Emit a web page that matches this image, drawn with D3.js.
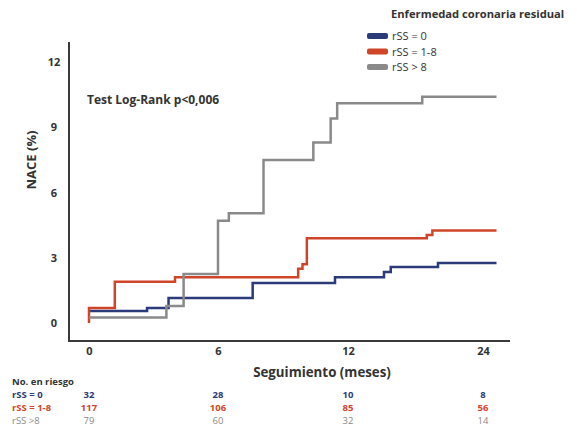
<!DOCTYPE html>
<html>
<head>
<meta charset="utf-8">
<script src="https://cdn.jsdelivr.net/npm/d3@7"></script>
<style>
  body { margin: 0; background: #fff; }
  text { font-family: 'Open Sans', sans-serif; }
</style>
</head>
<body>
<div id="chart"></div>
<script>
// series names + colours
const seriesNames = ['rSS = 0', 'rSS = 1-8', 'rSS > 8'];
const seriesColors = ['#2b3a78', '#d0452a', '#8a8a8a'];

// step points [month, NACE %]
const rss0 = [[0, 0.55], [2.7, 0.69], [3.7, 1.15], [7.6, 1.84], [11.4, 2.1], [15.2, 2.35], [15.8, 2.58], [20.0, 2.76], [25.2, 2.76]];
const rss18 = [[0, 0], [0, 0.69], [1.2, 1.9], [4.0, 2.1], [9.7, 2.5], [9.9, 2.7], [10.1, 3.9], [19.0, 4.05], [19.5, 4.25], [25.2, 4.25]];
const rss8 = [[0, 0.25], [3.6, 0.78], [4.4, 2.25], [6.0, 4.7], [6.5, 5.05], [8.1, 7.5], [10.4, 8.3], [11.2, 9.4], [11.5, 10.1], [18.6, 10.4], [25.2, 10.4]];
const seriesData = [rss0, rss18, rss8];

// ticks
const xTicks = [0, 6, 12, 24];
const yTicks = [0, 3, 6, 9, 12];

// number at risk table
const riskLabels = ['rSS = 0', 'rSS = 1-8', 'rSS >8'];
const risk0 = [32, 28, 10, 8];
const risk18 = [117, 106, 85, 56];
const risk8 = [79, 60, 32, 14];
const riskRows = [risk0, risk18, risk8];

const width = 577, height = 430;

const svg = d3.select('#chart').append('svg')
  .attr('width', width)
  .attr('height', height);

// x axis is not linear in the original: 0, 6, 12, 24 are evenly spaced
const x = d3.scaleLinear().domain([0, 6, 12, 24]).range([89, 218, 348, 483]);
const y = d3.scaleLinear().domain([0, 12]).range([323, 62]);

// axis frame
svg.append('line')
  .attr('x1', 69).attr('x2', 69).attr('y1', 42).attr('y2', 342)
  .attr('stroke', '#3a3a3a').attr('stroke-width', 2);
svg.append('line')
  .attr('x1', 68).attr('x2', 510).attr('y1', 341).attr('y2', 341)
  .attr('stroke', '#3a3a3a').attr('stroke-width', 2);

// y tick labels
svg.append('g')
  .attr('transform', 'translate(60,0)')
  .call(d3.axisLeft(y).tickValues(yTicks).tickSize(0).tickPadding(0))
  .call(g => g.select('.domain').remove())
  .selectAll('text')
  .attr('text-anchor', 'middle')
  .attr('x', -6)
  .attr('font-family', "'Open Sans', sans-serif")
  .attr('font-size', 11)
  .attr('font-weight', 'bold')
  .attr('fill', '#333');

// x tick labels
svg.append('g')
  .attr('transform', 'translate(0,347)')
  .call(d3.axisBottom(x).tickValues(xTicks).tickSize(0).tickPadding(0))
  .call(g => g.select('.domain').remove())
  .selectAll('text')
  .attr('font-family', "'Open Sans', sans-serif")
  .attr('font-size', 11)
  .attr('font-weight', 'bold')
  .attr('fill', '#333');

// axis titles
svg.append('text')
  .attr('transform', 'translate(36,160) rotate(-90)')
  .attr('text-anchor', 'middle')
  .attr('font-size', 13)
  .attr('font-weight', 'bold')
  .attr('fill', '#333')
  .text('NACE (%)');

svg.append('text')
  .attr('x', 322).attr('y', 377)
  .attr('text-anchor', 'middle')
  .attr('font-size', 13.3)
  .attr('font-weight', 'bold')
  .attr('fill', '#333')
  .text('Seguimiento (meses)');

svg.append('text')
  .attr('x', 87).attr('y', 104)
  .attr('font-size', 12)
  .attr('font-weight', 'bold')
  .attr('fill', '#333')
  .text('Test Log-Rank p<0,006');

// step curves
const line = d3.line()
  .x(d => x(d[0]))
  .y(d => y(d[1]))
  .curve(d3.curveStepAfter);

svg.append('g')
  .selectAll('path')
  .data(seriesData)
  .join('path')
  .attr('fill', 'none')
  .attr('stroke', (d, i) => seriesColors[i])
  .attr('stroke-width', 2.5)
  .attr('d', line);

// legend
svg.append('text')
  .attr('x', 391).attr('y', 18)
  .attr('font-size', 11.2)
  .attr('font-weight', 'bold')
  .attr('fill', '#333')
  .text('Enfermedad coronaria residual');

const legend = svg.append('g')
  .selectAll('g')
  .data(seriesNames)
  .join('g')
  .attr('transform', (d, i) => `translate(367,${36 + i * 15.5})`);

legend.append('rect')
  .attr('x', 0).attr('y', -3)
  .attr('width', 21).attr('height', 6)
  .attr('rx', 2)
  .attr('fill', (d, i) => seriesColors[i]);

legend.append('text')
  .attr('x', 25).attr('y', 4)
  .attr('font-size', 11)
  .attr('fill', '#333')
  .text(d => d);

// number at risk
svg.append('text')
  .attr('x', 12).attr('y', 385)
  .attr('font-size', 9.5)
  .attr('font-weight', 'bold')
  .attr('fill', '#333')
  .text('No. en riesgo');

const rowY = [398, 411, 424];
const rowWeight = ['bold', 'bold', 'normal'];

svg.append('g')
  .selectAll('text')
  .data(riskLabels)
  .join('text')
  .attr('x', 12)
  .attr('y', (d, i) => rowY[i])
  .attr('font-size', 9.5)
  .attr('font-weight', (d, i) => rowWeight[i])
  .attr('fill', (d, i) => seriesColors[i])
  .text(d => d);

riskRows.forEach((row, i) => {
  svg.append('g')
    .selectAll('text')
    .data(row)
    .join('text')
    .attr('x', (d, j) => x(xTicks[j]))
    .attr('y', rowY[i])
    .attr('text-anchor', 'middle')
    .attr('font-size', 9.5)
    .attr('font-weight', rowWeight[i])
    .attr('fill', seriesColors[i])
    .text(d => d);
});
</script>
</body>
</html>
